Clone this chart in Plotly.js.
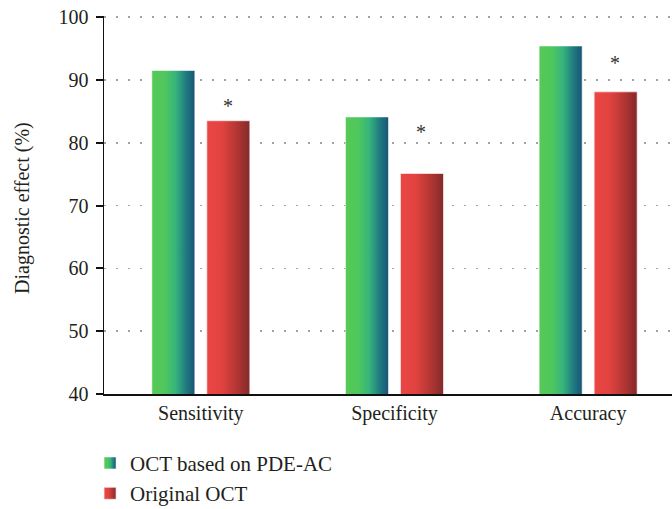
<!DOCTYPE html>
<html>
<head>
<meta charset="utf-8">
<script src="https://cdn.plot.ly/plotly-3.0.1.min.js"></script>
<style>
  html, body { margin: 0; padding: 0; background: #fff; }
  #chart { width: 672px; height: 509px; }
</style>
</head>
<body>
<div id="chart"></div>
<script>
// Diagnostic performance of the two OCT methods (%)
const categories = ["Sensitivity", "Specificity", "Accuracy"];
const pdeAcValues = [91.5, 84.1, 95.4];
const originalValues = [83.5, 75.1, 88.1];
const seriesNames = ["OCT based on PDE-AC", "Original OCT"];
const yTitle = "Diagnostic effect (%)";
// Level of the significance marks (*) drawn over the Original OCT bars
const starLevels = [86.4, 82.3, 93.3];

const serif = "Liberation Serif, Times New Roman, serif";
const ink = "#231f20";

const traces = [
  {
    type: "bar", name: seriesNames[0], x: categories, y: pdeAcValues,
    marker: { color: "#3fb276", line: { color: "rgba(255,255,255,0.55)", width: 1 } },
    legendgroup: "g1", hoverinfo: "x+y"
  },
  {
    type: "bar", name: seriesNames[1], x: categories, y: originalValues,
    marker: { color: "#d2403d", line: { color: "rgba(255,235,235,0.7)", width: 1 } },
    legendgroup: "g2", hoverinfo: "x+y"
  }
];

const annotations = categories.map((c, i) => ({
  x: c, y: starLevels[i], xref: "x", yref: "y",
  xshift: 27, yshift: -3.5, text: "*", showarrow: false,
  font: { family: serif, size: 20, color: "#333" },
  yanchor: "middle"
}));

// Vertical axis title, set in the left margin
annotations.push({
  text: yTitle, xref: "paper", yref: "paper", x: 0, y: 0.5,
  xanchor: "center", yanchor: "middle", xshift: -82, yshift: -3,
  textangle: -90, showarrow: false,
  font: { family: serif, size: 20, color: ink }
});

const layout = {
  width: 672, height: 509,
  margin: { l: 104, r: 0, t: 16, b: 115, autoexpand: false },
  paper_bgcolor: "#fff", plot_bgcolor: "#fff",
  font: { family: serif, size: 20, color: ink },
  barmode: "group", bargap: 0.432, bargroupgap: 0.218,
  xaxis: {
    type: "category", range: [-0.5, 2.433],
    showline: true, linecolor: "#111", linewidth: 2,
    ticks: "", showgrid: false, zeroline: false,
    tickfont: { family: serif, size: 20, color: ink }
  },
  yaxis: {
    // small headroom above 100 keeps the top dotted gridline visible
    range: [40, 100.17], dtick: 10, tick0: 40,
    showline: true, linecolor: "#111", linewidth: 1.5,
    ticks: "outside", ticklen: 7, tickwidth: 2, tickcolor: "#111",
    ticklabelstandoff: 3,
    showgrid: true, gridcolor: "rgba(120,120,120,0.7)", gridwidth: 1.6, griddash: "2px,10px",
    layer: "above traces",
    zeroline: false, automargin: false,
    tickfont: { family: serif, size: 20, color: ink }
  },
  legend: {
    xref: "container", yref: "container",
    x: 0.134, xanchor: "left", y: 0.13, yanchor: "top",
    orientation: "v", traceorder: "grouped", tracegroupgap: 0,
    font: { family: serif, size: 21, color: ink },
    bgcolor: "rgba(0,0,0,0)"
  },
  annotations: annotations
};

// Horizontal colour ramps applied to the bars and legend swatches
const ramps = {
  gradPde: [["0%", "#57c955"], ["30%", "#4fc75e"], ["55%", "#36b47c"], ["80%", "#1f7a80"], ["100%", "#1a5476"]],
  gradOrig: [["0%", "#ea4644"], ["35%", "#e24340"], ["70%", "#b23633"], ["100%", "#822a2a"]]
};

function ensureGradients(gd) {
  const svg = gd.querySelector(".main-svg");
  let defs = svg.querySelector("defs");
  if (!defs) {
    defs = document.createElementNS("http://www.w3.org/2000/svg", "defs");
    svg.insertBefore(defs, svg.firstChild);
  }
  Object.keys(ramps).forEach(id => {
    if (gd.querySelector("#" + id)) return;
    const g = document.createElementNS("http://www.w3.org/2000/svg", "linearGradient");
    g.setAttribute("id", id);
    g.setAttribute("x1", "0"); g.setAttribute("y1", "0");
    g.setAttribute("x2", "1"); g.setAttribute("y2", "0");
    ramps[id].forEach(([off, col]) => {
      const s = document.createElementNS("http://www.w3.org/2000/svg", "stop");
      s.setAttribute("offset", off);
      s.setAttribute("stop-color", col);
      g.appendChild(s);
    });
    defs.appendChild(g);
  });
}

function paintGradients(gd) {
  ensureGradients(gd);
  const ids = ["gradPde", "gradOrig"];
  gd.querySelectorAll(".barlayer .trace").forEach((t, i) => {
    t.querySelectorAll(".point path").forEach(p => { p.style.fill = "url(#" + ids[i] + ")"; });
  });
  gd.querySelectorAll(".legend .traces").forEach((t, i) => {
    t.querySelectorAll(".legendpoints path").forEach(p => { p.style.fill = "url(#" + ids[i] + ")"; });
  });
}

const gd = document.getElementById("chart");
Plotly.newPlot(gd, traces, layout, { displayModeBar: false, staticPlot: true }).then(() => {
  paintGradients(gd);
  gd.on("plotly_afterplot", () => paintGradients(gd));
});
</script>
</body>
</html>
